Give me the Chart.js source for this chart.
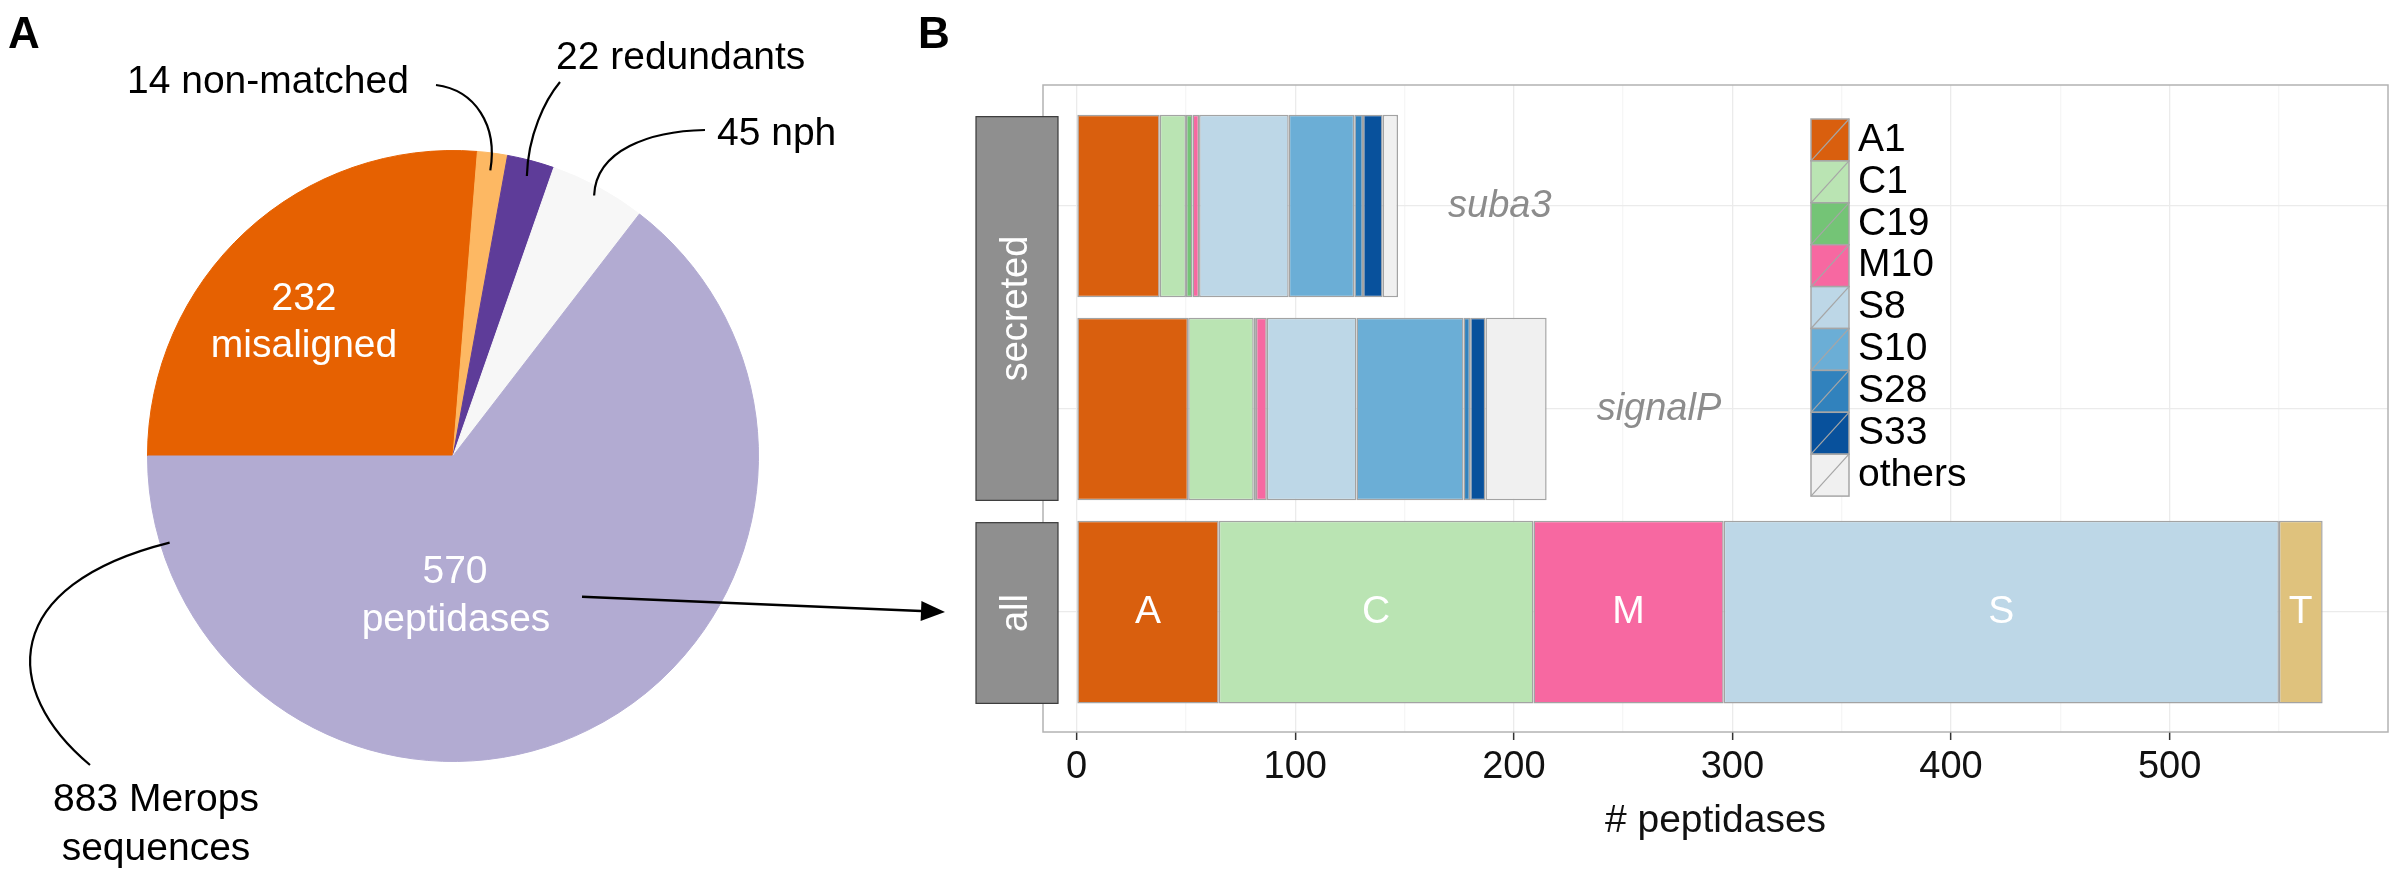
<!DOCTYPE html>
<html>
<head>
<meta charset="utf-8">
<title>Merops peptidases</title>
<script src="https://cdn.jsdelivr.net/npm/chart.js@4.4.1/dist/chart.umd.min.js"></script>
<style>
  html, body { margin: 0; padding: 0; background: #fff; }
  body { width: 2400px; height: 879px; position: relative; overflow: hidden; font-family: 'Liberation Sans', Arial, sans-serif; }
  canvas { position: absolute; top: 0; }
  #pieChart { left: 0; }
  #barChart { left: 920px; }
  .panel-tag { position: absolute; top: 8px; font-weight: bold; font-size: 44px; color: #000; }
</style>
</head>
<body>
<canvas id="pieChart" width="1000" height="879"></canvas>
<canvas id="barChart" width="1480" height="879"></canvas>
<div class="panel-tag" style="left:8px">A</div>
<div class="panel-tag" style="left:918px">B</div>

<script>
// --- Panel A: the 883 Merops sequences
const pieLabels = ['misaligned', 'non-matched', 'redundants', 'nph', 'peptidases'];
const pieCounts = [232, 14, 22, 45, 570];

// --- Panel B: peptidase families per set
const rowLabels = ['suba3', 'signalP', 'all'];
const familyLabels = ['A1', 'C1', 'C19', 'M10', 'S8', 'S10', 'S28', 'S33', 'others'];
const suba3Counts = [38, 12, 3, 3, 41, 30, 4, 9, 7];
const signalPCounts = [51, 30, 1, 5, 41, 49, 3, 7, 28];
const clanLabels = ['A', 'C', 'M', 'S', 'T'];
const allCounts = [65, 144, 87, 254, 20];
const xTicks = [0, 100, 200, 300, 400, 500];
const xMinor = [50, 150, 250, 350, 450, 550];

// colours
const pieColors = ['#e66101', '#fdb863', '#5e3c99', '#f7f7f7', '#b2abd2'];
const familyColors = ['#d95f0e', '#bae4b3', '#74c476', '#f768a1', '#bdd7e7', '#6baed6', '#3182bd', '#08519c', '#f0f0f0'];
const clanColors = ['#d95f0e', '#bae4b3', '#f768a1', '#bdd7e7', '#dfc27d'];

const FONT = "'Liberation Sans', Arial, sans-serif";

// annotations around the pie
const pieNotes = {
    id: 'pieNotes',
    afterDraw(chart) {
        const ctx = chart.ctx;
        const arcs = chart.getDatasetMeta(0).data;
        const cx = arcs[0].x, cy = arcs[0].y, r = arcs[0].outerRadius;
        const onArc = (i, f) => {
            const a = (arcs[i].startAngle + arcs[i].endAngle) / 2;
            return [cx + Math.cos(a) * f * r, cy + Math.sin(a) * f * r];
        };
        const atAngle = (deg, f) => {
            const a = deg * Math.PI / 180;
            return [cx + Math.cos(a) * f * r, cy + Math.sin(a) * f * r];
        };

        ctx.save();
        ctx.font = '39px ' + FONT;
        ctx.textBaseline = 'alphabetic';

        // labels inside slices
        ctx.fillStyle = '#fff';
        ctx.textAlign = 'center';
        ctx.fillText(String(pieCounts[0]), cx - 149, cy - 146);
        ctx.fillText(pieLabels[0], cx - 149, cy - 99);
        ctx.fillText(String(pieCounts[4]), cx + 2, cy + 127);
        ctx.fillText(pieLabels[4], cx + 3, cy + 175);

        // labels outside
        ctx.fillStyle = '#000';
        ctx.textAlign = 'left';
        ctx.fillText(pieCounts[1] + ' ' + pieLabels[1], cx - 326, cy - 363);
        ctx.fillText(pieCounts[2] + ' ' + pieLabels[2], cx + 103, cy - 387);
        ctx.fillText(pieCounts[3] + ' ' + pieLabels[3], cx + 264, cy - 311);
        const total = pieCounts.reduce((s, v) => s + v, 0);
        ctx.textAlign = 'center';
        ctx.fillText(total + ' Merops', cx - 297, cy + 355);
        ctx.fillText('sequences', cx - 297, cy + 404);

        // leader curves
        ctx.strokeStyle = '#000';
        ctx.lineWidth = 2.2;
        const curve = (p0, p1, p2, p3) => {
            ctx.beginPath();
            ctx.moveTo(p0[0], p0[1]);
            ctx.bezierCurveTo(p1[0], p1[1], p2[0], p2[1], p3[0], p3[1]);
            ctx.stroke();
        };
        curve([cx - 17, cy - 371], [cx + 22, cy - 366], [cx + 45, cy - 331], onArc(1, 0.943));
        curve([cx + 107, cy - 374], [cx + 92, cy - 356], [cx + 75, cy - 321], onArc(2, 0.948));
        curve([cx + 252, cy - 326], [cx + 197, cy - 325], [cx + 143, cy - 306], onArc(3, 0.97));
        curve(atAngle(163, 0.97), [cx - 453, cy + 129], [cx - 453, cy + 234], [cx - 363, cy + 309]);

        // arrow to the "all" bar
        const s = atAngle(47.5, 0.625);
        const e = [cx + 492, cy + 156];
        const ang = Math.atan2(e[1] - s[1], e[0] - s[0]);
        const head = 24, half = 10;
        const bx = e[0] - Math.cos(ang) * head, by = e[1] - Math.sin(ang) * head;
        ctx.lineWidth = 2.6;
        ctx.beginPath();
        ctx.moveTo(s[0], s[1]);
        ctx.lineTo(bx, by);
        ctx.stroke();
        ctx.fillStyle = '#000';
        ctx.beginPath();
        ctx.moveTo(e[0], e[1]);
        ctx.lineTo(bx - Math.sin(ang) * half, by + Math.cos(ang) * half);
        ctx.lineTo(bx + Math.sin(ang) * half, by - Math.cos(ang) * half);
        ctx.closePath();
        ctx.fill();
        ctx.restore();
    }
};

new Chart(document.getElementById('pieChart'), {
    type: 'pie',
    data: {
        labels: pieLabels,
        datasets: [{
            data: pieCounts,
            backgroundColor: pieColors,
            borderColor: pieColors,
            borderWidth: 1
        }]
    },
    options: {
        responsive: false,
        animation: false,
        devicePixelRatio: 1,
        rotation: -90,
        layout: { padding: { left: 147, top: 150, right: 241, bottom: 117 } },
        plugins: { legend: { display: false }, tooltip: { enabled: false } }
    },
    plugins: [pieNotes]
});

// stacked bars: families for the secreted sets, clans for all
const barDatasets = [];
familyLabels.forEach((f, i) => {
    barDatasets.push({
        label: f,
        data: [{ x: suba3Counts[i], y: 0 }, { x: signalPCounts[i], y: 1 }],
        backgroundColor: familyColors[i]
    });
});
clanLabels.forEach((c, i) => {
    barDatasets.push({
        label: c,
        clan: true,
        data: [{ x: allCounts[i], y: 2 }],
        backgroundColor: clanColors[i]
    });
});

// strips, labels, legend and frame of panel B
const panelDecor = {
    id: 'panelDecor',
    afterDraw(chart) {
        const { ctx, chartArea: a, scales: { x, y } } = chart;
        const thick = chart.getDatasetMeta(0).data[0].height;
        const rowTop = i => y.getPixelForValue(i) - thick / 2;
        const rowBottom = i => y.getPixelForValue(i) + thick / 2;

        ctx.save();
        // frame
        ctx.strokeStyle = '#b3b3b3';
        ctx.lineWidth = 1.5;
        ctx.strokeRect(a.left, a.top, a.right - a.left, a.bottom - a.top);

        // facet strips
        const strips = [
            { text: 'secreted', from: 0, to: 1 },
            { text: 'all', from: 2, to: 2 }
        ];
        const sx0 = a.left - 67, sx1 = a.left + 15;
        strips.forEach(st => {
            const t = rowTop(st.from) + 2, b = rowBottom(st.to);
            ctx.fillStyle = '#8f8f8f';
            ctx.fillRect(sx0, t, sx1 - sx0, b - t);
            ctx.strokeStyle = '#3a3a3a';
            ctx.lineWidth = 1.2;
            ctx.strokeRect(sx0, t, sx1 - sx0, b - t);
            ctx.save();
            ctx.translate((sx0 + sx1) / 2, (t + b) / 2);
            ctx.rotate(-Math.PI / 2);
            ctx.fillStyle = '#fff';
            ctx.font = '38px ' + FONT;
            ctx.textAlign = 'center';
            ctx.textBaseline = 'middle';
            ctx.fillText(st.text, 0, 0);
            ctx.restore();
        });

        // set names after the secreted bars
        ctx.font = 'italic 38px ' + FONT;
        ctx.fillStyle = '#8c8c8c';
        ctx.textAlign = 'left';
        ctx.textBaseline = 'middle';
        [suba3Counts, signalPCounts].forEach((counts, i) => {
            const total = counts.reduce((s, v) => s + v, 0);
            ctx.fillText(rowLabels[i], x.getPixelForValue(total) + 50, y.getPixelForValue(i));
        });

        // clan letters inside the all bar
        ctx.font = '39px ' + FONT;
        ctx.fillStyle = '#fff';
        ctx.textAlign = 'center';
        chart.data.datasets.forEach((ds, di) => {
            if (!ds.clan) return;
            const el = chart.getDatasetMeta(di).data[0];
            ctx.fillText(ds.label, (el.x + el.base) / 2, el.y);
        });

        // legend
        const lx = a.left + 768, ly = a.top + 34, kw = 38, kh = 41.9;
        familyLabels.forEach((f, i) => {
            const ky = ly + i * kh;
            ctx.fillStyle = familyColors[i];
            ctx.fillRect(lx, ky, kw, kh);
            ctx.strokeStyle = '#a6a6a6';
            ctx.lineWidth = 1.5;
            ctx.strokeRect(lx, ky, kw, kh);
            ctx.lineWidth = 1.2;
            ctx.beginPath();
            ctx.moveTo(lx, ky + kh);
            ctx.lineTo(lx + kw, ky);
            ctx.stroke();
            ctx.fillStyle = '#000';
            ctx.textAlign = 'left';
            ctx.fillText(f, lx + 47, ky + kh / 2);
        });
        ctx.restore();
    }
};

new Chart(document.getElementById('barChart'), {
    type: 'bar',
    data: { datasets: barDatasets },
    options: {
        responsive: false,
        animation: false,
        devicePixelRatio: 1,
        indexAxis: 'y',
        layout: { padding: { left: 123, right: 12, top: 85, bottom: 0 } },
        datasets: {
            bar: {
                borderColor: '#a3a3a3',
                borderWidth: 1.5,
                borderSkipped: false,
                categoryPercentage: 1,
                barPercentage: 0.9
            }
        },
        scales: {
            x: {
                type: 'linear',
                min: -15.4,
                max: 599.9,
                stacked: true,
                offset: false,
                afterBuildTicks: s => {
                    s.ticks = xTicks.concat(xMinor).sort((p, q) => p - q).map(v => ({ value: v }));
                },
                afterFit: s => { s.height = 147; },
                grid: {
                    offset: false,
                    color: c => (c.tick && xTicks.includes(c.tick.value)) ? '#ebebeb' : '#f6f6f6',
                    lineWidth: 1.3,
                    tickLength: 8,
                    tickWidth: 1.5,
                    tickColor: c => (c.tick && xTicks.includes(c.tick.value)) ? '#333' : 'rgba(0,0,0,0)'
                },
                border: { display: false },
                ticks: {
                    autoSkip: false,
                    maxRotation: 0,
                    padding: 5,
                    color: '#111',
                    font: { family: FONT, size: 38 },
                    callback: v => xTicks.includes(v) ? String(v) : ''
                },
                title: {
                    display: true,
                    text: '# peptidases',
                    color: '#111',
                    font: { family: FONT, size: 39 },
                    padding: { top: 0, bottom: 34 }
                }
            },
            y: {
                type: 'linear',
                reverse: true,
                min: -0.596,
                max: 2.591,
                stacked: true,
                offset: false,
                afterBuildTicks: s => {
                    s.ticks = rowLabels.map((_, i) => ({ value: i }));
                },
                afterFit: s => { s.width = 0; },
                grid: { offset: false, color: '#ebebeb', lineWidth: 1.3, drawTicks: false },
                border: { display: false },
                ticks: { display: false }
            }
        },
        plugins: { legend: { display: false }, tooltip: { enabled: false } }
    },
    plugins: [panelDecor]
});
</script>
</body>
</html>
